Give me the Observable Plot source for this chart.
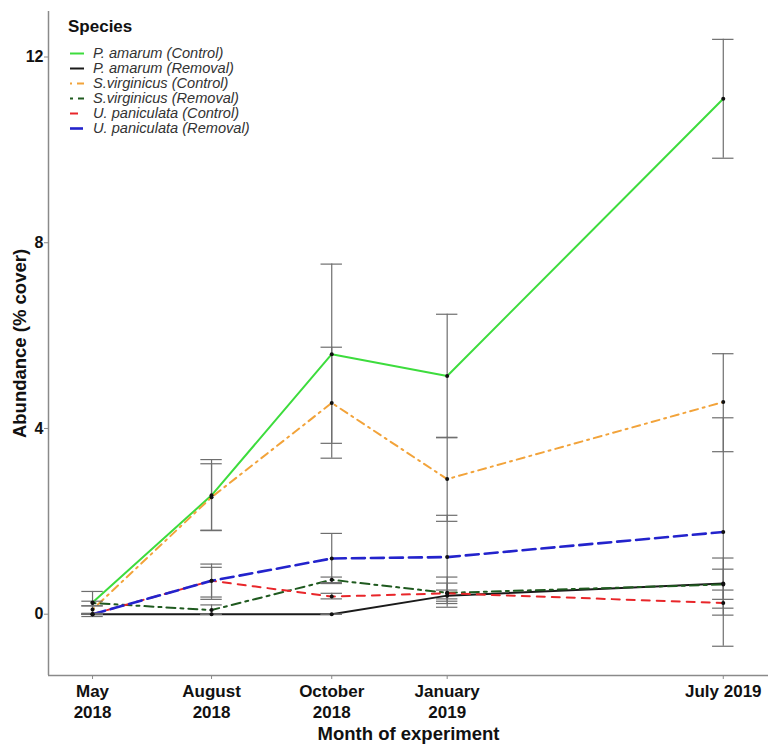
<!DOCTYPE html>
<html>
<head>
<meta charset="utf-8">
<script src="https://cdn.jsdelivr.net/npm/d3@7"></script>
<script src="https://cdn.jsdelivr.net/npm/@observablehq/plot@0.6"></script>
<style>
  body { margin: 0; background: white; font-family: "Liberation Sans", Arial, sans-serif; }
  #wrap { position: relative; width: 768px; height: 747px; }
  #legend { position: absolute; left: 0; top: 0; width: 300px; height: 140px; pointer-events: none; }
  #legend .title { position: absolute; left: 68px; top: 17px; font-weight: bold; font-size: 17px; line-height: 20px; color: #111; }
  #legend .item { position: absolute; left: 70px; height: 15px; line-height: 15px; font-size: 14.6px; font-style: italic; color: #333; white-space: nowrap; }
  #legend .item svg { position: absolute; left: 0; top: 0; }
  #legend .item span { position: absolute; left: 23px; top: 0; }
</style>
</head>
<body>
<div id="wrap"><div id="chart"></div><div id="legend"></div></div>
<script>
// ---- data ----
const monthLabels = ["May\n2018", "August\n2018", "October\n2018", "January\n2019", "July 2019"];
const monthPos = [0, 1, 2.01, 2.98, 5.30];
const seriesNames = [
  "P. amarum (Control)", "P. amarum (Removal)",
  "S.virginicus (Control)", "S.virginicus (Removal)",
  "U. paniculata (Control)", "U. paniculata (Removal)"
];
const meanPAC = [0.25, 2.56, 5.60, 5.13, 11.10];
const meanPAR = [0.00, 0.00, 0.00, 0.40, 0.66];
const meanSVC = [0.10, 2.52, 4.55, 2.91, 4.57];
const meanSVR = [0.24, 0.09, 0.74, 0.46, 0.64];
const meanUPC = [0.00, 0.72, 0.38, 0.45, 0.24];
const meanUPR = [0.00, 0.72, 1.20, 1.23, 1.77];

const loPAC = [-0.05, 1.81, 3.68, 3.80, 9.82];
const hiPAC = [0.49, 3.33, 7.54, 6.46, 12.38];
const loPAR = [0.00, 0.00, 0.00, 0.28, 0.13];
const hiPAR = [0.00, 0.00, 0.00, 0.52, 1.21];
const loSVC = [0.02, 1.80, 3.36, 2.00, 3.50];
const hiSVC = [0.18, 3.24, 5.75, 3.81, 5.61];
const loSVR = [0.18, 0.00, 0.68, 0.15, 0.32];
const hiSVR = [0.28, 0.20, 0.80, 0.80, 0.97];
const loUPC = [0.00, 0.32, 0.33, 0.23, -0.02];
const hiUPC = [0.00, 1.01, 0.45, 0.67, 0.52];
const loUPR = [0.00, 0.37, 0.66, 0.33, -0.69];
const hiUPR = [0.00, 1.08, 1.74, 2.13, 4.23];

const yTicks = [0, 4, 8, 12];

// ---- styles ----
const styles = [
  {color: "#3ddc3d", dash: null, width: 2},
  {color: "#1a1a1a", dash: null, width: 2},
  {color: "#f2a33a", dash: "2,5,8,5", width: 2},
  {color: "#1f5a1f", dash: "3,5,9,5", width: 2},
  {color: "#e8262a", dash: "8,7", width: 2},
  {color: "#2323cc", dash: "13,6", width: 2.6}
];

const means = [meanPAC, meanPAR, meanSVC, meanSVR, meanUPC, meanUPR];
const los = [loPAC, loPAR, loSVC, loSVR, loUPC, loUPR];
const his = [hiPAC, hiPAR, hiSVC, hiSVR, hiUPC, hiUPR];

const rows = [];
seriesNames.forEach((s, k) => {
  monthPos.forEach((x, i) => {
    rows.push({series: s, k, x, mean: means[k][i], lo: los[k][i], hi: his[k][i]});
  });
});

const capHalf = 0.09;
const xDomain = [-0.37, 5.68];
const yDomain = [-1.32, 12.98];

const marks = [];
// axis lines
marks.push(Plot.ruleX([xDomain[0]], {stroke: "#8a8a8a", strokeWidth: 1.5}));
marks.push(Plot.ruleY([yDomain[0]], {stroke: "#8a8a8a", strokeWidth: 1.5}));
// lines
seriesNames.forEach((s, k) => {
  const st = styles[k];
  marks.push(Plot.line(rows.filter(d => d.k === k), {
    x: "x", y: "mean", stroke: st.color, strokeWidth: st.width,
    strokeDasharray: st.dash || undefined
  }));
});
// error bars
marks.push(Plot.ruleX(rows, {x: "x", y1: "lo", y2: "hi", stroke: "#6e6e6e", strokeWidth: 1.2}));
marks.push(Plot.ruleY(rows, {y: "lo", x1: d => d.x - capHalf, x2: d => d.x + capHalf, stroke: "#6e6e6e", strokeWidth: 1.2}));
marks.push(Plot.ruleY(rows, {y: "hi", x1: d => d.x - capHalf, x2: d => d.x + capHalf, stroke: "#6e6e6e", strokeWidth: 1.2}));
// points
marks.push(Plot.dot(rows, {x: "x", y: "mean", r: 2, fill: "#111", stroke: "none"}));
// axes
marks.push(Plot.axisY({ticks: yTicks, tickSize: 4, tickPadding: 1, stroke: "#8a8a8a",
  fill: "#111", fontSize: 16, fontWeight: "bold", label: null}));
marks.push(Plot.axisX({ticks: monthPos, tickFormat: d => monthLabels[monthPos.indexOf(d)],
  tickSize: 4, tickPadding: 3, stroke: "#8a8a8a", fill: "#111", fontSize: 17,
  fontWeight: "bold", lineHeight: 1.22, label: null}));
// axis titles
marks.push(Plot.text(["Month of experiment"], {frameAnchor: "bottom", dy: 64,
  fontSize: 18.5, fontWeight: "bold", fill: "#111", textAnchor: "middle"}));
marks.push(Plot.text(["Abundance (% cover)"], {frameAnchor: "left", dx: -28, rotate: -90,
  fontSize: 18.5, fontWeight: "bold", fill: "#111", textAnchor: "middle"}));

const chart = Plot.plot({
  width: 768, height: 747,
  marginLeft: 48, marginRight: 0, marginTop: 11, marginBottom: 72,
  x: {domain: xDomain},
  y: {domain: yDomain},
  style: {fontFamily: "'Liberation Sans', Arial, sans-serif", background: "white", overflow: "visible"},
  marks
});
document.getElementById("chart").appendChild(chart);

// legend
const leg = document.getElementById("legend");
const t = document.createElement("div");
t.className = "title"; t.textContent = "Species";
leg.appendChild(t);
seriesNames.forEach((s, k) => {
  const st = styles[k];
  const it = document.createElement("div");
  it.className = "item";
  it.style.top = (46 + 15 * k) + "px";
  it.innerHTML = `<svg width="16" height="15"><line x1="0" x2="14" y1="7.5" y2="7.5" stroke="${st.color}" stroke-width="${st.width}" ${st.dash ? `stroke-dasharray="${st.dash}"` : ""}/></svg><span></span>`;
  it.querySelector("span").textContent = s;
  leg.appendChild(it);
});
</script>
</body>
</html>
